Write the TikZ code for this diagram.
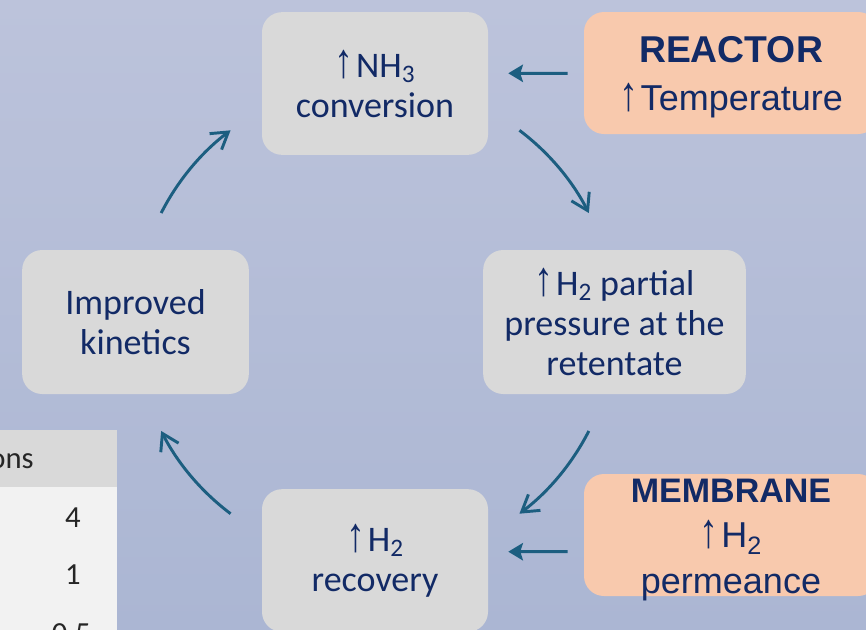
\documentclass[tikz,border=0pt]{standalone}
\usepackage{graphicx}
\usepackage{fontspec}
\setmainfont{Carlito}
\newfontfamily\hdfont{Liberation Sans}
\usetikzlibrary{positioning, calc, arrows.meta}
\definecolor{bgTop}{RGB}{188,195,219}
\definecolor{bgBot}{RGB}{171,182,211}
\definecolor{boxGray}{RGB}{217,217,217}
\definecolor{boxPeach}{RGB}{248,201,173}
\definecolor{txtNavy}{RGB}{18,42,102}
\definecolor{arrTeal}{RGB}{28,94,128}
\definecolor{tabHead}{RGB}{217,217,217}
\definecolor{tabBody}{RGB}{242,242,242}
\newcommand{\upar}{\scalebox{1.05}[1.35]{\hdfont ↑}\hspace{2pt}}

\tikzset{
  cyclebox/.style={fill=boxGray, rounded corners=15pt, align=center, text=txtNavy,
    inner sep=0pt, font=\fontsize{27}{30}\selectfont},
  drivebox/.style={fill=boxPeach, rounded corners=15pt,
    inner sep=0pt, minimum width=220.5pt, minimum height=91.5pt},
  drivetext/.style={align=center, text=txtNavy, inner sep=0pt},
  cyc/.style={arrTeal, line width=2.2pt, -{Straight Barb[length=12pt, width=15pt]}},
  feed/.style={arrTeal, line width=2.2pt, -{Stealth[length=11pt, width=13pt, inset=2pt]}},
  tabtext/.style={text=black!85, font=\fontsize{23}{26}\selectfont, inner sep=0pt}
}

\begin{document}
\begin{tikzpicture}[x=0.75pt, y=-0.75pt]
  \clip (0,0) rectangle (866,629);
  \shade[top color=bgTop, bottom color=bgBot] (0,0) rectangle (866,629);

  % Table fragment
  \fill[tabHead] (-5,430) rectangle (117,487);
  \fill[tabBody] (-5,487) rectangle (117,660);
  \node[tabtext, anchor=east] (hdr) at (34,461) {ons};
  \node[tabtext, anchor=east] (val1) at (81,518) {4};
  \node[tabtext, anchor=east] (val2) at (81,575) {1};
  \node[tabtext, anchor=east] (val3) at (91,634) {0.5};

  % Cycle
  \node[cyclebox, minimum width=169.5pt, minimum height=107pt] (conv) at (375,83.5)
    {\upar NH\textsubscript{3}\\conversion};
  \node[cyclebox, minimum width=197pt, minimum height=108pt] (press) at (614.5,322)
    {\upar H\textsubscript{2} partial\\pressure at the\\retentate};
  \node[cyclebox, minimum width=169.5pt, minimum height=107pt] (recov) at (375,560.5)
    {\upar H\textsubscript{2}\\recovery};
  \node[cyclebox, minimum width=170pt, minimum height=108pt] (kin) at (135.5,322)
    {Improved\\kinetics};

  % Drivers
  \node[drivebox] (reac) at (731,73) {};
  \node[drivetext, font=\hdfont\fontsize{27}{36}\selectfont] (reactxt) at ($(reac.center)+(0,4)$)
    {{\fontsize{28}{36}\selectfont\bfseries REACTOR}\\\upar Temperature};
  \node[drivebox] (memb) at (731,535) {};
  \node[drivetext, font=\hdfont\fontsize{27}{34}\selectfont] (membtxt) at ($(memb.center)+(0,5)$)
    {{\fontsize{25.5}{34}\selectfont\bfseries MEMBRANE}\\\upar H\textsubscript{2}\\permeance};

  % Arrows
  \coordinate (ctr) at (conv |- kin);
  \draw[cyc] ($(ctr)+(-53:240)$) arc[start angle=-53, end angle=-27, radius=240];
  \draw[cyc] ($(ctr)+(27:240)$) arc[start angle=27, end angle=53, radius=240];
  \draw[cyc] ($(ctr)+(127:240)$) arc[start angle=127, end angle=153, radius=240];
  \draw[cyc] ($(ctr)+(207:240)$) arc[start angle=207, end angle=233, radius=240];

  \draw[feed] ($(reac.west)+(-16,0.3)$) -- ($(conv.east)+(20,-10.2)$);
  \draw[feed] ($(memb.west)+(-16,16.7)$) -- ($(recov.east)+(20,-8.8)$);
\end{tikzpicture}
\end{document}
